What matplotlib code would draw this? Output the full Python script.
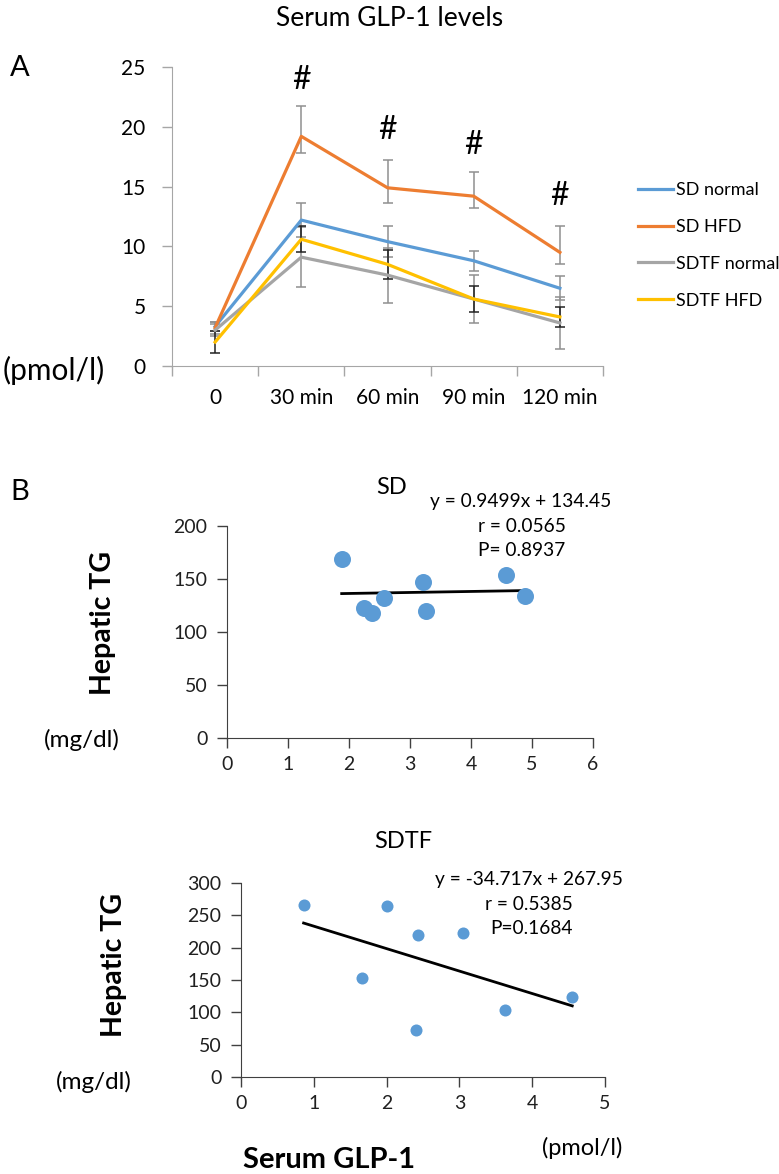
import matplotlib
matplotlib.use("Agg")
import matplotlib.pyplot as plt
import numpy as np

plt.rcParams["font.family"] = ["Lato", "DejaVu Sans"]

W, H = 779, 1174

# ---- panel A: serum GLP-1 time course ----
times = ["0", "30 min", "60 min", "90 min", "120 min"]
series_names = ["SD normal", "SD HFD", "SDTF normal", "SDTF HFD"]
series_colors = ["#5B9BD5", "#ED7D31", "#A5A5A5", "#FFC000"]
err_colors = ["#909090", "#909090", "#909090", "#222222"]

sd_normal = [3.3, 12.2, 10.4, 8.8, 6.5]
sd_normal_err = [0.4, 1.4, 1.3, 0.85, 1.0]
sd_hfd = [3.2, 19.2, 14.9, 14.2, 9.5]
sd_hfd_err_lo = [0.5, 1.4, 1.3, 0.95, 1.0]
sd_hfd_err_hi = [0.5, 2.5, 2.3, 2.0, 2.2]
sdtf_normal = [3.0, 9.1, 7.6, 5.6, 3.6]
sdtf_normal_err = [0.5, 2.5, 2.3, 2.0, 2.2]
sdtf_hfd = [2.0, 10.6, 8.5, 5.6, 4.1]
sdtf_hfd_err = [0.95, 1.1, 1.2, 1.1, 0.8]

sig_pos = [1, 2, 3, 4]
sig_y = [23.9, 19.7, 18.5, 14.2]

# ---- panel B: correlations ----
sd_x = [1.88, 2.25, 2.38, 2.57, 3.21, 3.26, 4.58, 4.89]
sd_y = [169, 123, 117.5, 132.5, 147.6, 120, 154, 134]
sd_slope, sd_icpt = 0.9499, 134.45

sdtf_x = [0.86, 1.66, 2.01, 2.40, 2.43, 3.05, 3.62, 4.55]
sdtf_y = [265.5, 153, 264.5, 72.5, 219.5, 223, 103, 124]
sdtf_slope, sdtf_icpt = -34.717, 267.95


def px_axes(l, t, r, b):
    return fig.add_axes([l / W, 1 - b / H, (r - l) / W, (b - t) / H])


def ftext(x, y, s, **kw):
    fig.text(x / W, 1 - y / H, s, **kw)


fig = plt.figure(figsize=(W / 100, H / 100), dpi=100)

ax = px_axes(172, 67, 603, 366)
x = np.arange(len(times))
means = [sd_normal, sd_hfd, sdtf_normal, sdtf_hfd]
errs = [sd_normal_err, [sd_hfd_err_lo, sd_hfd_err_hi], sdtf_normal_err, sdtf_hfd_err]
handles = []
for m, e, c, ec, name in zip(means, errs, series_colors, err_colors, series_names):
    ax.errorbar(x, m, yerr=e, fmt="none", ecolor=ec, elinewidth=1.1,
                capsize=3.5, capthick=1.1, zorder=2)
    h, = ax.plot(x, m, color=c, lw=2.3, zorder=3, label=name)
    handles.append(h)
for p, yy in zip(sig_pos, sig_y):
    ax.text(p, yy, "#", ha="center", va="center", fontsize=23)

ax.set_xlim(-0.5, 4.5)
ax.set_ylim(0, 25)
ax.set_yticks(range(0, 26, 5))
ax.set_xticks(x)
ax.set_xticklabels(times)
ax.set_xticks(np.arange(-0.5, 4.6, 1), minor=True)
ax.tick_params(axis="x", which="major", length=0, pad=16, labelsize=15)
ax.tick_params(axis="x", which="minor", length=7, color="#a6a6a6", width=1)
ax.tick_params(axis="y", length=7, color="#a6a6a6", width=1, pad=12, labelsize=15)
for s in ["top", "right"]:
    ax.spines[s].set_visible(False)
for s in ["left", "bottom"]:
    ax.spines[s].set_color("#a6a6a6")

fig.legend(handles=handles, loc="upper left", bbox_to_anchor=(622 / W, 1 - 166 / H),
           frameon=False, fontsize=13, handlelength=1.9, handletextpad=0.2,
           labelspacing=1.15)

ftext(390, 19, "Serum GLP-1 levels", ha="center", va="center", fontsize=19)
ftext(10, 68, "A", ha="left", va="center", fontsize=21)
ftext(3, 370, "(pmol/l)", ha="left", va="center", fontsize=21.5)


def scatter_panel(l, t, r, b, xs, ys, slope, icpt, xmax, ymax, ystep, msize):
    a = px_axes(l, t, r, b)
    a.scatter(xs, ys, s=msize, color="#5B9BD5", zorder=3, linewidths=0)
    xx = np.array([min(xs), max(xs)])
    a.plot(xx, slope * xx + icpt, color="black", lw=2, zorder=2)
    a.set_xlim(0, xmax)
    a.set_ylim(0, ymax)
    a.set_xticks(range(0, xmax + 1))
    a.set_yticks(range(0, ymax + 1, ystep))
    a.tick_params(length=7, width=1, color="#404040", labelsize=14,
                  labelcolor="#202020")
    a.tick_params(axis="y", pad=7)
    a.tick_params(axis="x", pad=6)
    for s in ["top", "right"]:
        a.spines[s].set_visible(False)
    for s in ["left", "bottom"]:
        a.spines[s].set_color("#404040")
    return a


scatter_panel(227, 526, 593, 738, sd_x, sd_y, sd_slope, sd_icpt, 6, 200, 50, 150)
scatter_panel(241, 883, 605, 1077, sdtf_x, sdtf_y, sdtf_slope, sdtf_icpt, 5, 300, 50, 75)

ftext(10, 492, "B", ha="left", va="center", fontsize=21)
ftext(392, 488, "SD", ha="center", va="center", fontsize=17)
ftext(521, 502, "y = 0.9499x + 134.45", ha="center", va="center", fontsize=13.8)
ftext(522, 527, "r = 0.0565", ha="center", va="center", fontsize=13.8)
ftext(522, 550, "P= 0.8937", ha="center", va="center", fontsize=13.8)
ftext(103, 623, "Hepatic TG", ha="center", va="center", rotation=90,
      fontsize=20.5, fontweight="bold")
ftext(82, 740, "(mg/dl)", ha="center", va="center", fontsize=17.5)

ftext(403, 842, "SDTF", ha="center", va="center", fontsize=17)
ftext(529, 880, "y = -34.717x + 267.95", ha="center", va="center", fontsize=13.8)
ftext(529, 904, "r = 0.5385", ha="center", va="center", fontsize=13.8)
ftext(532, 928, "P=0.1684", ha="center", va="center", fontsize=13.8)
ftext(114, 965, "Hepatic TG", ha="center", va="center", rotation=90,
      fontsize=20.5, fontweight="bold")
ftext(94, 1082, "(mg/dl)", ha="center", va="center", fontsize=17.5)

ftext(329, 1160, "Serum GLP-1", ha="center", va="center", fontsize=21,
      fontweight="bold")
ftext(582, 1148, "(pmol/l)", ha="center", va="center", fontsize=17)

fig.savefig("out.png", dpi=100)
